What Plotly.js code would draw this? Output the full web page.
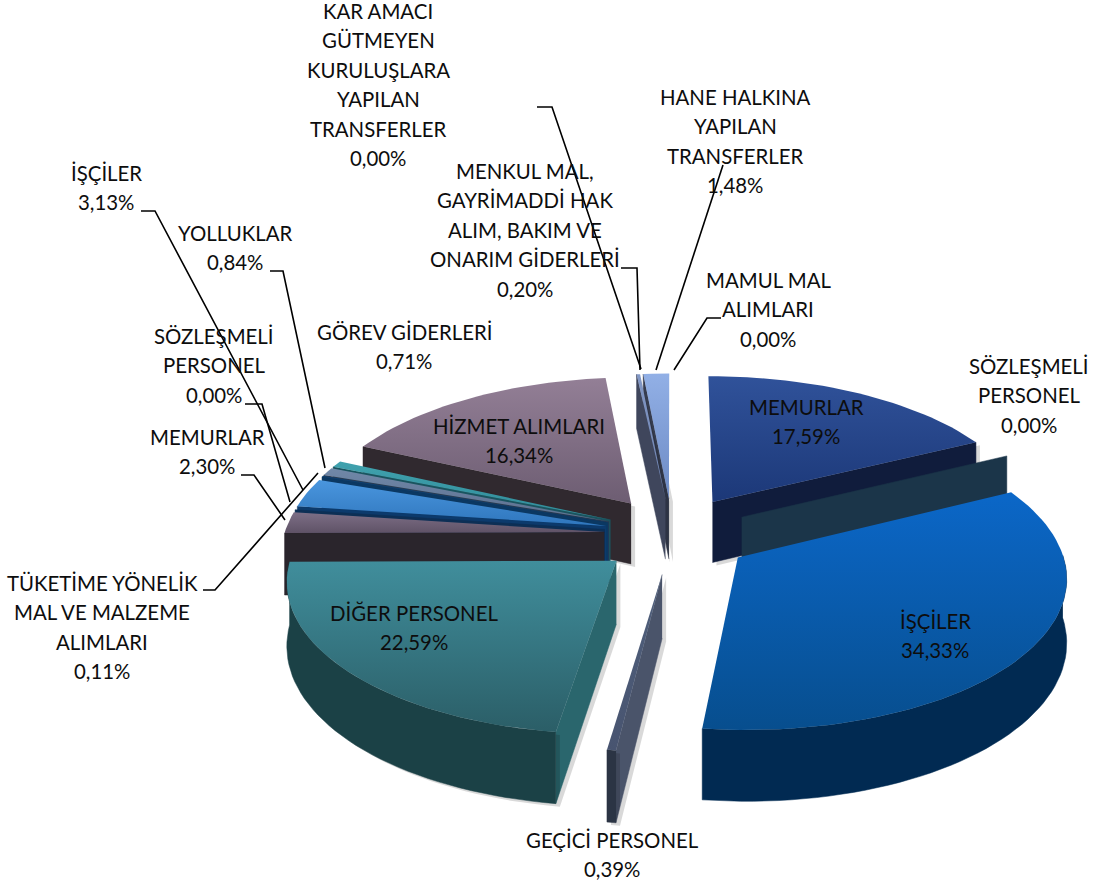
<!DOCTYPE html>
<html><head><meta charset="utf-8">
<script src="https://cdn.plot.ly/plotly-3.0.1.min.js"></script>
<style>html,body{margin:0;padding:0;background:#fff}#c{width:1094px;height:887px}</style>
</head><body><div id="c"></div>
<script>
// Data, clockwise from 12 o'clock
const categories = ["MEMURLAR","SÖZLEŞMELİ PERSONEL","İŞÇİLER","GEÇİCİ PERSONEL","DİĞER PERSONEL","MEMURLAR","SÖZLEŞMELİ PERSONEL","İŞÇİLER","TÜKETİME YÖNELİK MAL VE MALZEME ALIMLARI","YOLLUKLAR","GÖREV GİDERLERİ","HİZMET ALIMLARI","MENKUL MAL, GAYRİMADDİ HAK ALIM, BAKIM VE ONARIM GİDERLERİ","HANE HALKINA YAPILAN TRANSFERLER","MAMUL MAL ALIMLARI","KAR AMACI GÜTMEYEN KURULUŞLARA YAPILAN TRANSFERLER"];
const values = [17.59,0,34.33,0.39,22.59,2.30,0,3.13,0.11,0.84,0.71,16.34,0.20,1.48,0,0];
const valueText = values.map(v => v.toFixed(2).replace('.', ',') + '%');

// Styles per slice: top gradient (far, near), radial wall, outer wall
const topFar  = ["#30529a","#1b3549","#0b67c8","#50607c","#408e9c","#7d6f87","#0f3560","#4a96de","#0c3f70","#7088a8","#40a2ae","#937f96","#8298c6","#92b0e6","#8fa8d8","#8fa8d8"];
const topNear = ["#1c3878","#1b3549","#074e8e","#485470","#2b5e67","#5f5266","#0f3560","#2f76bd","#0c3f70","#5c6f8e","#2f8a98","#6d5d72","#6d80ad","#6c8ac4","#8fa8d8","#8fa8d8"];
const wallSide = ["#101c3c","#1b3549","#01294e","#4a546a","#2a666d","#2a252c","#0d2f55","#0c3a6c","#0b3862","#2c3a50","#1a5560","#30292f","#3f465c","#363d50","#363d50","#363d50"];
const wallOuter = ["#101c3c","#1b3549","#012a52","#2b3444","#1b4146","#2a252c","#0d2f55","#0c3a6c","#0b3862","#2c3a50","#1a5560","#30292f","#3f465c","#363d50","#363d50","#363d50"];
const explode = [85,85,85,85,85,80,80,80,80,80,80,85,80,80,80,80];
const castsShadow = [1,0,0,1,1,0,0,0,0,0,0,1,1,1,0,0];

// Projection of the tilted pie
const cx = 672, cy = 534.5, R = 320, tilt = 0.46, persp = 2800, depth = 62, explodeXLeft = 0.85, explodeXRight = 0.93;
const proj = (X, Y, z) => {
  const w = 1 / (1 + Y / persp);
  return [cx + X * w, cy - tilt * Y * w + z * depth * w];
};
const rad = d => d * Math.PI / 180;
const total = values.reduce((a, b) => a + b, 0);

const slices = [];
let acc = 0;
values.forEach((v, i) => {
  const t0 = acc, t1 = acc + v / total * 360; acc = t1;
  const mid = (t0 + t1) / 2;
  const sx = Math.sin(rad(mid));
  const ox = (sx > 0 ? explodeXRight : explodeXLeft) * explode[i] * sx, oy = explode[i] * Math.cos(rad(mid));
  slices.push({i, t0, t1, mid, ox, oy, key: oy});
});

const traces = [];
const poly = (pts, name, style) => traces.push(Object.assign({
  type: 'scatter', mode: 'lines', x: pts.map(p => p[0]), y: pts.map(p => p[1]),
  fill: 'toself', line: {width: 0.5}, name, hoverinfo: 'name', showlegend: false
}, style));

slices.slice().sort((a, b) => b.key - a.key).forEach(s => {
  const {i, t0, t1, ox, oy} = s;
  const name = categories[i] + ' ' + valueText[i];
  const out = t => [ox + R * Math.sin(rad(t)), oy + R * Math.cos(rad(t))];
  const n = Math.max(2, Math.ceil((t1 - t0) / 2));
  const ang = []; for (let k = 0; k <= n; k++) ang.push(t0 + (t1 - t0) * k / n);
  const solid = c => ({fillcolor: c, line: {width: 0.5, color: c}});
  const wall = (pts, c) => {
    if (castsShadow[i]) poly(pts.map(p => [p[0] + 4, p[1] + 3]), name, {fillcolor: 'rgba(0,0,0,0.15)', line: {width: 0}, hoverinfo: 'skip'});
    poly(pts, name, solid(c));
  };
  const radial = t => {
    const p = out(t);
    wall([proj(ox, oy, 0), proj(p[0], p[1], 0), proj(p[0], p[1], 1), proj(ox, oy, 1)], wallSide[i]);
  };
  if (Math.sin(rad(t0)) < -1e-6) radial(t0);
  if (Math.sin(rad(t1)) > 1e-6) radial(t1);
  const front = ang.filter(t => Math.cos(rad(t)) < 0.02);
  if (front.length > 1) {
    const a = front.map(t => { const p = out(t); return proj(p[0], p[1], 0); });
    const b = front.slice().reverse().map(t => { const p = out(t); return proj(p[0], p[1], 1); });
    wall(a.concat(b), wallOuter[i]);
  }
  if (t1 - t0 > 1e-6) {
    const pts = [proj(ox, oy, 0)].concat(ang.map(t => { const p = out(t); return proj(p[0], p[1], 0); }));
    poly(pts, name, {
      fillcolor: topFar[i],
      fillgradient: {type: 'vertical', colorscale: [[0, topNear[i]], [1, topFar[i]]]},
      line: {width: 0}
    });
  }
});

// Label text lines and their page positions
const labelLines = [
  [["KAR AMACI","GÜTMEYEN","KURULUŞLARA","YAPILAN","TRANSFERLER","0,00%"], 378, 11],
  [["HANE HALKINA","YAPILAN","TRANSFERLER","1,48%"], 735, 97],
  [["MENKUL MAL,","GAYRİMADDİ HAK","ALIM, BAKIM VE","ONARIM GİDERLERİ","0,20%"], 525, 171],
  [["MAMUL MAL","ALIMLARI","0,00%"], 768, 280],
  [["SÖZLEŞMELİ","PERSONEL","0,00%"], 1029, 366],
  [["İŞÇİLER","3,13%"], 106, 173],
  [["YOLLUKLAR","0,84%"], 235, 233],
  [["SÖZLEŞMELİ","PERSONEL","0,00%"], 214, 336],
  [["GÖREV GİDERLERİ","0,71%"], 404, 332],
  [["HİZMET ALIMLARI","16,34%"], 519, 426],
  [["MEMURLAR","2,30%"], 207, 437],
  [["MEMURLAR","17,59%"], 806, 407],
  [["TÜKETİME YÖNELİK","MAL VE MALZEME","ALIMLARI","0,11%"], 102, 583],
  [["DİĞER PERSONEL","22,59%"], 414, 613],
  [["İŞÇİLER","34,33%"], 935, 621],
  [["GEÇİCİ PERSONEL","0,39%"], 612, 840]
];
const lineGap = 29.4;
const annotations = [];
labelLines.forEach(([lines, x, y]) => lines.forEach((t, k) => annotations.push({
  text: t, x, y: y + k * lineGap, xref: 'x', yref: 'y', showarrow: false,
  xanchor: 'center', yanchor: 'middle',
  font: {family: 'Lato, "Noto Sans", sans-serif', size: 20.4, color: '#0d0d0d'}
})));

// Leader lines
const leaders = [
  "M537 107 L552 107 L641 369",
  "M723 165 L656 370",
  "M721 318 L707 318 L674 370",
  "M621 268 L637 268 L640 370",
  "M141 211 L155 211 L303 490",
  "M270 271 L283 271 L325 468",
  "M245 404 L262 404 L290 502",
  "M241 475 L254 475 L285 520",
  "M203 590 L215 590 L318 473"
];
const shapes = leaders.map(path => ({type: 'path', path, xref: 'x', yref: 'y', line: {color: '#000', width: 1.6}}));

Plotly.newPlot('c', traces, {
  width: 1094, height: 887, margin: {l: 0, r: 0, t: 0, b: 0},
  paper_bgcolor: '#fff', plot_bgcolor: '#fff', showlegend: false,
  xaxis: {range: [0, 1094], visible: false, fixedrange: true},
  yaxis: {range: [887, 0], visible: false, fixedrange: true},
  annotations, shapes
}, {displayModeBar: false});
</script></body></html>
